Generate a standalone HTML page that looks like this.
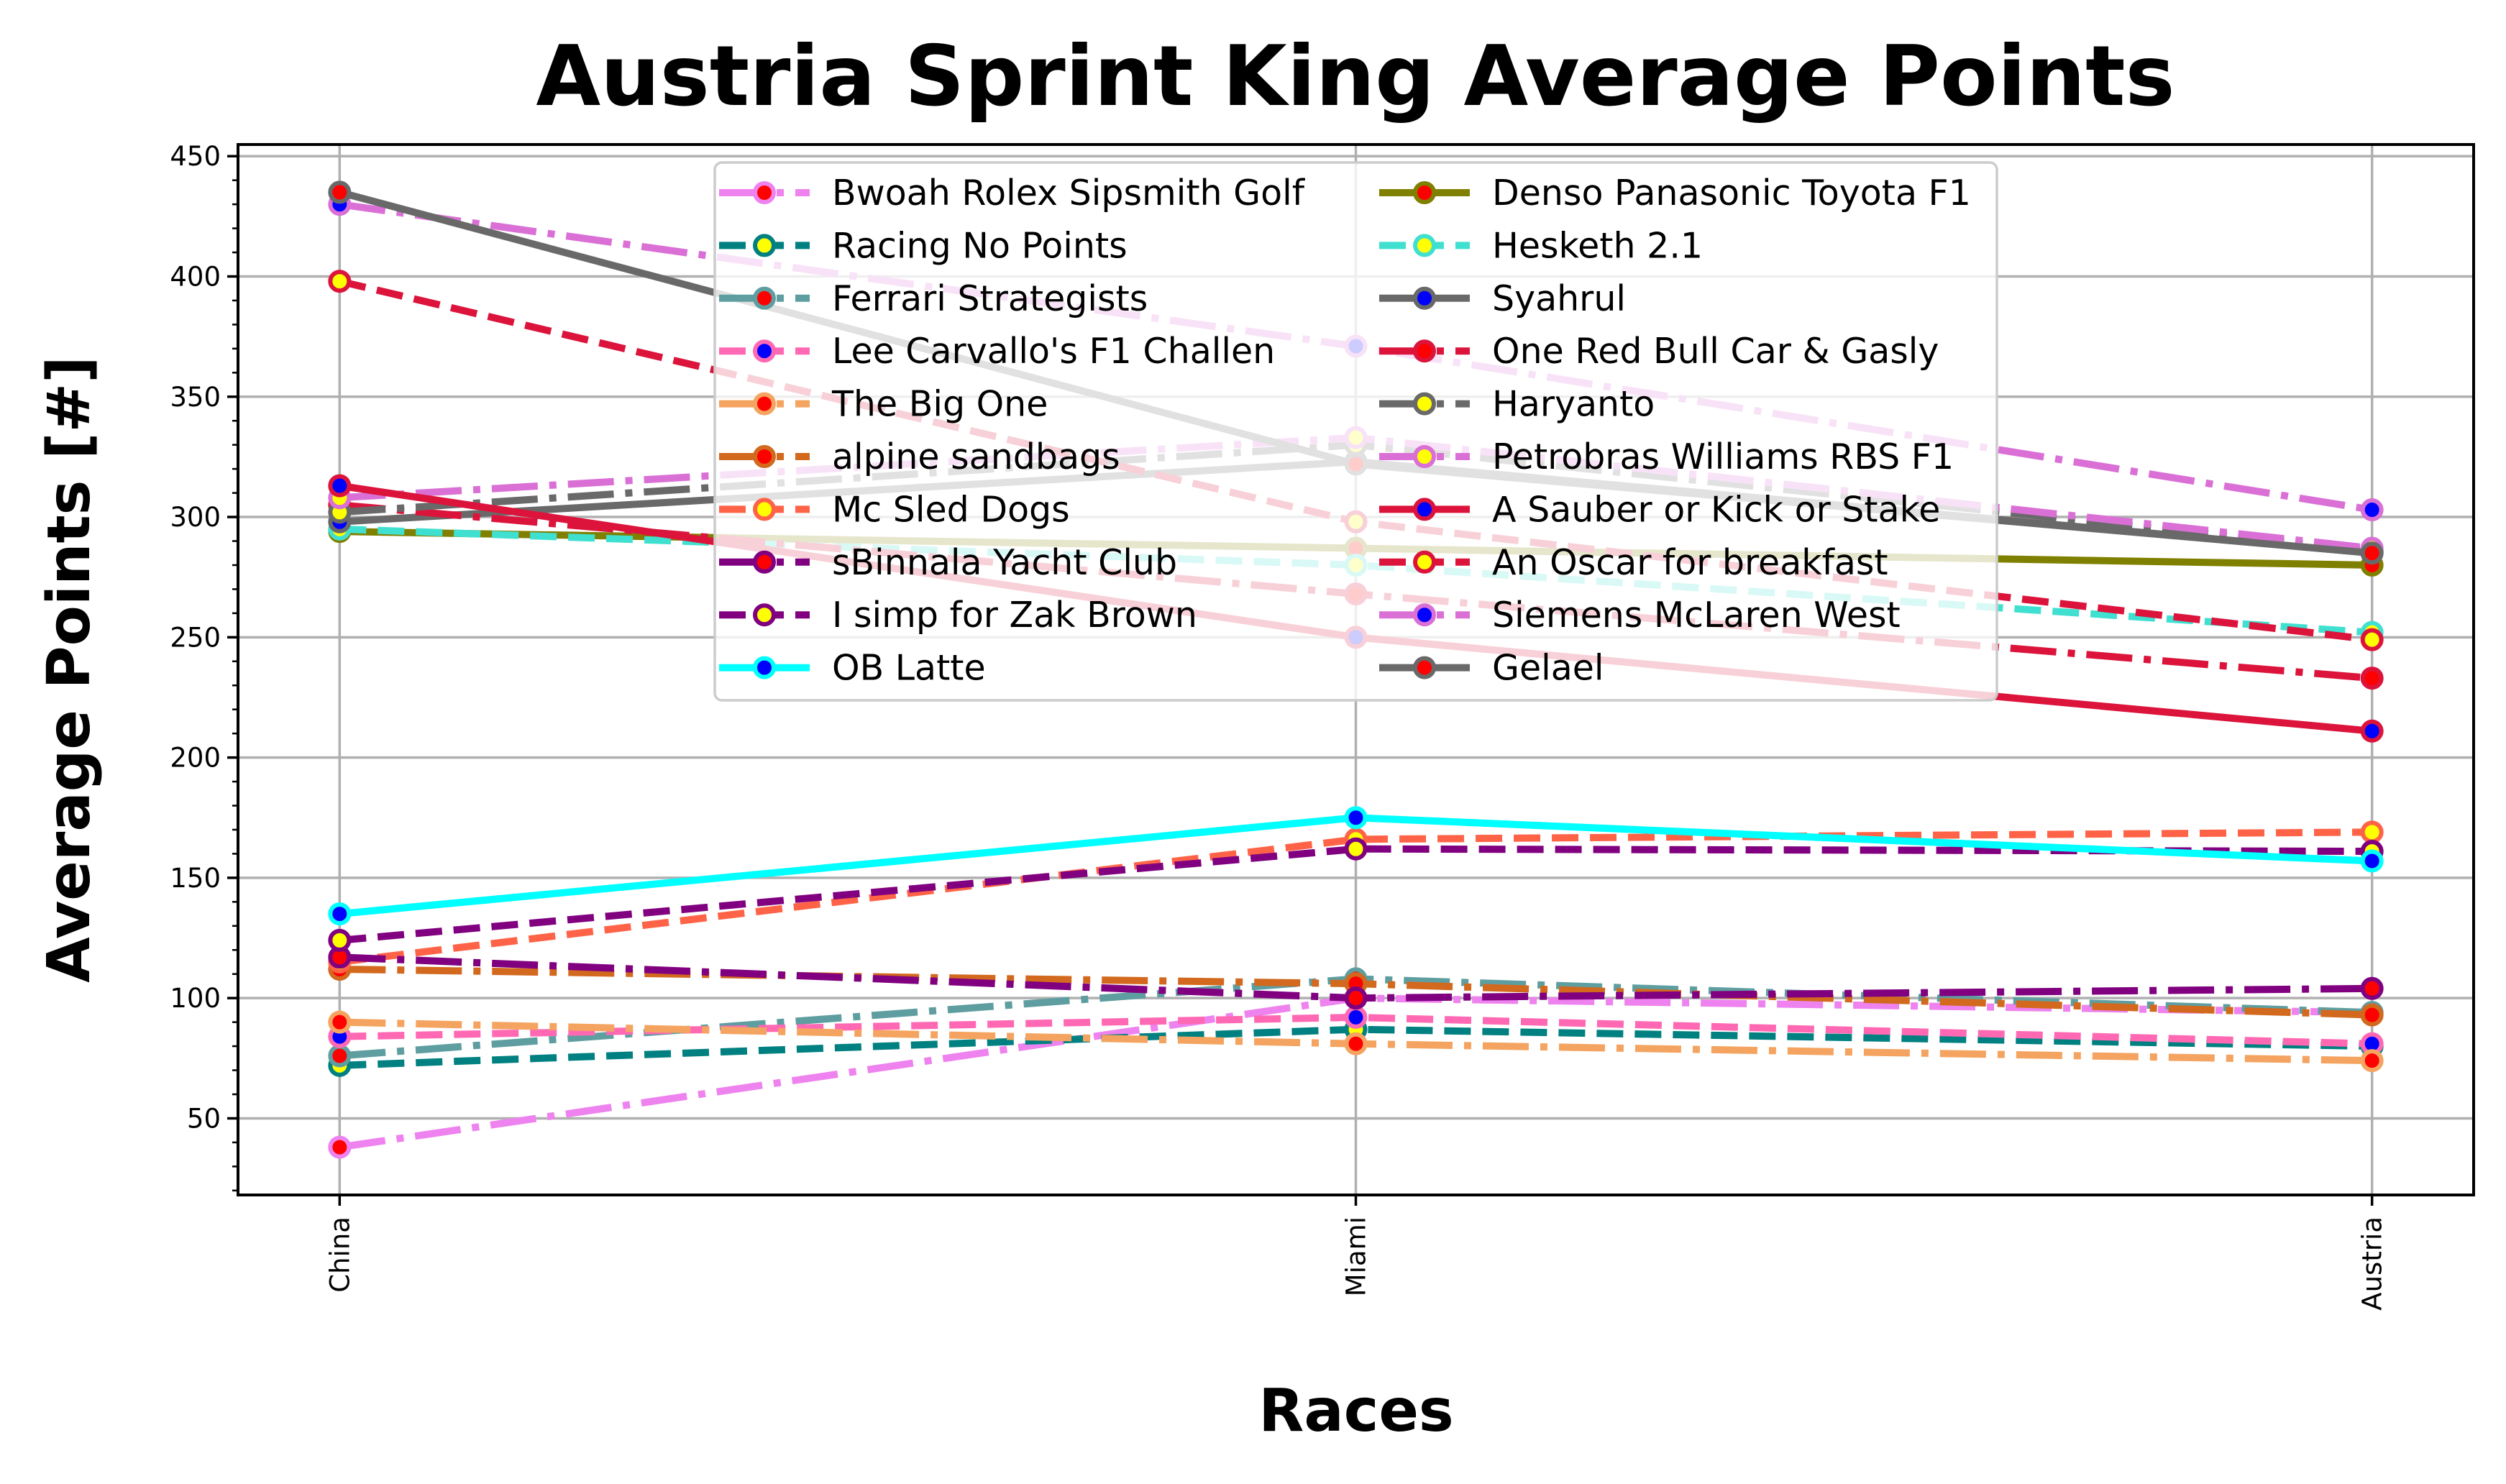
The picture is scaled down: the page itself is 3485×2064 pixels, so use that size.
<!DOCTYPE html>
<html><head><meta charset="utf-8"><style>
html,body{margin:0;padding:0;background:#fff}
svg{display:block}
text{font-family:"DejaVu Sans","Liberation Sans",sans-serif}
</style></head><body>
<svg id="chart" width="3485" height="2064" viewBox="0 0 3485 2064" xmlns="http://www.w3.org/2000/svg">
<rect x="0" y="0" width="3485" height="2064" fill="#fff"/>
<text x="1885" y="146" font-size="116" font-weight="bold" text-anchor="middle">Austria Sprint King Average Points</text>
<text transform="translate(124,931) rotate(-90)" font-size="82" font-weight="bold" text-anchor="middle">Average Points [#]</text>
<text x="1886" y="1990" font-size="82" font-weight="bold" text-anchor="middle">Races</text>
<g id="grid"></g>
<g id="series"></g>
<g id="axes"></g>
<g id="legend"></g>
</svg>
<script>
const categories = ["China","Miami","Austria"];
const yTicks = [50,100,150,200,250,300,350,400,450];
const names = ["Bwoah Rolex Sipsmith Golf","Racing No Points","Ferrari Strategists","Lee Carvallo's F1 Challen","The Big One","alpine sandbags","Mc Sled Dogs","sBinnala Yacht Club","I simp for Zak Brown","OB Latte","Denso Panasonic Toyota F1","Hesketh 2.1","Syahrul","One Red Bull Car & Gasly","Haryanto","Petrobras Williams RBS F1","A Sauber or Kick or Stake","An Oscar for breakfast","Siemens McLaren West","Gelael"];
const v_bwoah = [38,100,94];
const v_racing = [72,87,80];
const v_ferrari = [76,108,94];
const v_lee = [84,92,81];
const v_bigone = [90,81,74];
const v_alpine = [112,106,93];
const v_mcsled = [115,166,169];
const v_sbinnala = [117,100,104];
const v_zak = [124,162,161];
const v_oblatte = [135,175,157];
const v_denso = [294,287,280];
const v_hesketh = [295,280,252];
const v_syahrul = [298,323,285];
const v_redbull = [305,268,233];
const v_haryanto = [302,330,286];
const v_petrobras = [308,333,287];
const v_sauber = [313,250,211];
const v_oscar = [398,298,249];
const v_siemens = [430,371,303];
const v_gelael = [435,322,285];
const values = [v_bwoah,v_racing,v_ferrari,v_lee,v_bigone,v_alpine,v_mcsled,v_sbinnala,v_zak,v_oblatte,v_denso,v_hesketh,v_syahrul,v_redbull,v_haryanto,v_petrobras,v_sauber,v_oscar,v_siemens,v_gelael];
const colors = ["#EE82EE","#008080","#5F9EA0","#FF69B4","#F4A460","#D2691E","#FF6347","#800080","#800080","#00FFFF","#808000","#40E0D0","#696969","#DC143C","#696969","#DA70D6","#DC143C","#DC143C","#DA70D6","#696969"];
const faces = ["red","yellow","red","blue","red","red","yellow","red","yellow","blue","red","yellow","blue","red","yellow","yellow","blue","yellow","blue","red"];
const styles = ["dashdot","dashed","dashdot","dashed","dashdot","dashdot","dashed","dashdot","dashed","solid","solid","dashed","solid","dashdot","dashdot","dashdot","solid","dashed","dashdot","solid"];

const NS="http://www.w3.org/2000/svg";
const L=331,R=3440,T=201,B=1662;
const yMin=18.15,yMax=454.85;
function xs(i){return L+(R-L)*(i+0.1)/2.2;}
function ys(v){return B-(B-T)*(v-yMin)/(yMax-yMin);}
function mk(tag,attrs,parent){const e=document.createElementNS(NS,tag);for(const k in attrs)e.setAttribute(k,attrs[k]);parent.appendChild(e);return e;}
const LW=10;
function dash(s){if(s==="dashed")return (3.7*LW)+","+(1.6*LW);if(s==="dashdot")return (6.4*LW)+","+(1.6*LW)+","+(1*LW)+","+(1.6*LW);return "none";}

const grid=document.getElementById('grid');
yTicks.forEach(t=>{const l=mk('line',{x1:L,x2:R,y1:ys(t),y2:ys(t),stroke:'#b0b0b0','stroke-width':3.5},grid);

});
categories.forEach((c,i)=>{const l=mk('line',{x1:xs(i),x2:xs(i),y1:T,y2:B,stroke:'#b0b0b0','stroke-width':3.5},grid);

});

const sg=document.getElementById('series');
values.forEach((vals,s)=>{
  const g=mk('g',{},sg);
  
  
  const pts=vals.map((v,i)=>xs(i)+","+ys(v)).join(" ");
  const pl=mk('polyline',{points:pts,fill:'none',stroke:colors[s],'stroke-width':LW,'stroke-dasharray':dash(styles[s])},g);
  
  
  vals.forEach((v,i)=>{const c=mk('circle',{cx:xs(i),cy:ys(v),r:13,fill:faces[s],stroke:colors[s],'stroke-width':6},g);
  
  });
});

const ax=document.getElementById('axes');
const fr=mk('rect',{x:L,y:T,width:R-L,height:B-T,fill:'none',stroke:'#000','stroke-width':4},ax);


yTicks.forEach(t=>{const l=mk('line',{x1:L-15,x2:L,y1:ys(t),y2:ys(t),stroke:'#000','stroke-width':3.5},ax);


const tx=mk('text',{x:L-24,y:ys(t)+13,'font-size':37,'text-anchor':'end'},ax);tx.textContent=t;

});
for(let m=20;m<=450;m+=10){if(m%50===0)continue;const l=mk('line',{x1:L-8,x2:L,y1:ys(m),y2:ys(m),stroke:'#000','stroke-width':2.5},ax);

}
categories.forEach((c,i)=>{const l=mk('line',{x1:xs(i),x2:xs(i),y1:B,y2:B+15,stroke:'#000','stroke-width':3.5},ax);


const tx=mk('text',{transform:'translate('+(xs(i)+13)+','+(B+30)+') rotate(-90)','font-size':37,'text-anchor':'end'},ax);tx.textContent=c;

});

const lg=document.getElementById('legend');
const box=mk('rect',{x:994,y:226,width:1783,height:748,rx:10,fill:'#fff','fill-opacity':0.8,stroke:'#cccccc','stroke-width':3.5},lg);


names.forEach((n,s)=>{
  const col=Math.floor(s/10),row=s%10;
  const x0=col===0?1000:1918, y=268+row*73.4;
  const g=mk('g',{},lg);
  
  
  const l=mk('line',{x1:x0,x2:x0+126,y1:y,y2:y,stroke:colors[s],'stroke-width':LW,'stroke-dasharray':dash(styles[s])},g);
  
  
  const c=mk('circle',{cx:x0+63,cy:y,r:13,fill:faces[s],stroke:colors[s],'stroke-width':6},g);
  
  
  const t=mk('text',{x:x0+157,y:y+17,'font-size':49},g);t.textContent=n;
  
  
});
</script>
</body></html>
